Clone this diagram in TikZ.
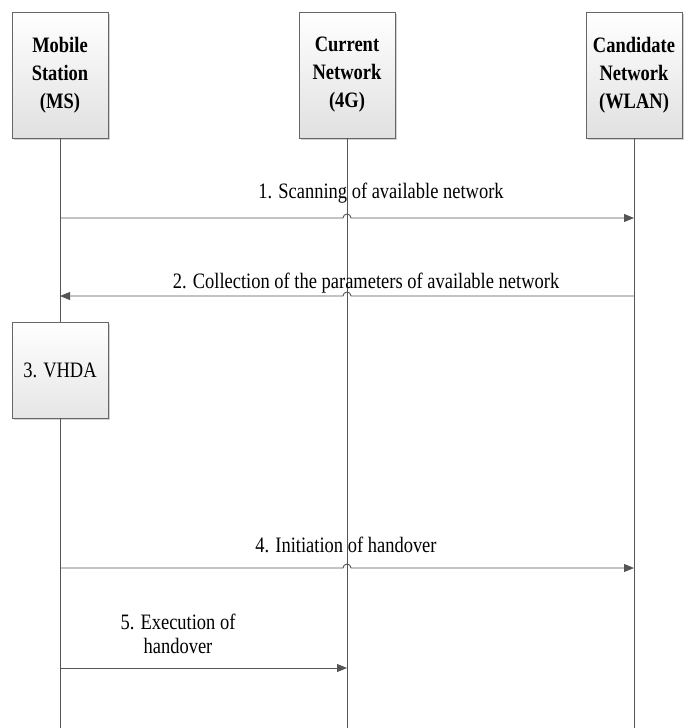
\documentclass[tikz,border=0pt]{standalone}
\usepackage{fontspec}
\setmainfont{Liberation Serif}
\newfontfamily\narrowserif[FakeStretch=0.84]{Liberation Serif}
\usetikzlibrary{arrows.meta,shadows}
\definecolor{linegray}{HTML}{555555}
\definecolor{boxedge}{HTML}{666666}
\tikzset{
  entity/.style={draw=boxedge, line width=0.9pt, minimum width=96pt, minimum height=126pt,
    top color=white, bottom color=black!12, align=center, inner sep=2pt,
    font=\narrowserif\fontsize{22}{28}\selectfont\bfseries,
    drop shadow={shadow xshift=1.5pt, shadow yshift=-1.5pt, opacity=0.35}},
  procbox/.style={draw=boxedge, line width=0.9pt, minimum width=96pt, minimum height=96pt,
    top color=white, bottom color=black!10, align=center,
    font=\narrowserif\fontsize{22}{28}\selectfont,
    drop shadow={shadow xshift=1.5pt, shadow yshift=-1.5pt, opacity=0.35}},
  lifeline/.style={draw=linegray, line width=0.8pt},
  msg/.style={draw=linegray, line width=0.9pt, -{Triangle[length=10pt,width=8pt]}},
  msglabel/.style={font=\narrowserif\fontsize{22}{24}\selectfont, align=center, inner sep=0pt, anchor=base}
}
\begin{document}
\begin{tikzpicture}[x=1pt,y=-1pt]
  \useasboundingbox (0,0) rectangle (688,728);

  % participants
  \node[entity] (ms) at (60,75)  {Mobile\\Station\\(MS)};
  \node[entity] (cn) at (347,75) {Current\\Network\\(4G)};
  \node[entity] (wl) at (634,75) {Candidate\\Network\\(WLAN)};
  \node[procbox] (vhda) at (60,370) {3. VHDA};

  % lifeline ends and message anchors
  \coordinate (msend) at (60,728);
  \coordinate (cnend) at (347,728);
  \coordinate (wlend) at (634,728);
  \foreach \name/\yy in {a/218, b/296, d/568, e/668} {
    \coordinate (m\name) at (60,\yy);
    \coordinate (c\name) at (347,\yy);
    \coordinate (w\name) at (634,\yy);
  }

  % lifelines
  \draw[lifeline] (ms.south) -- (vhda.north);
  \draw[lifeline] (vhda.south) -- (msend);
  \draw[lifeline] (cn.south) -- (cnend);
  \draw[lifeline] (wl.south) -- (wlend);

  % messages, hopping over the 4G lifeline
  \draw[msg] (ma) -- ([xshift=-4pt]ca) arc (180:0:4pt) -- (wa);
  \draw[msg] (wb) -- ([xshift=4pt]cb) arc (0:180:4pt) -- (mb);
  \draw[msg] (md) -- ([xshift=-4pt]cd) arc (180:0:4pt) -- (wd);
  \draw[msg] (me) -- (ce);

  % message labels
  \node[msglabel] (l1) at (381,198) {1. Scanning of available network};
  \node[msglabel] (l2) at (366,288) {2. Collection of the parameters of available network};
  \node[msglabel] (l4) at (346,552) {4. Initiation of handover};
  \node[msglabel, anchor=north] (l5) at (178,614) {5. Execution of\\handover};
\end{tikzpicture}
\end{document}
